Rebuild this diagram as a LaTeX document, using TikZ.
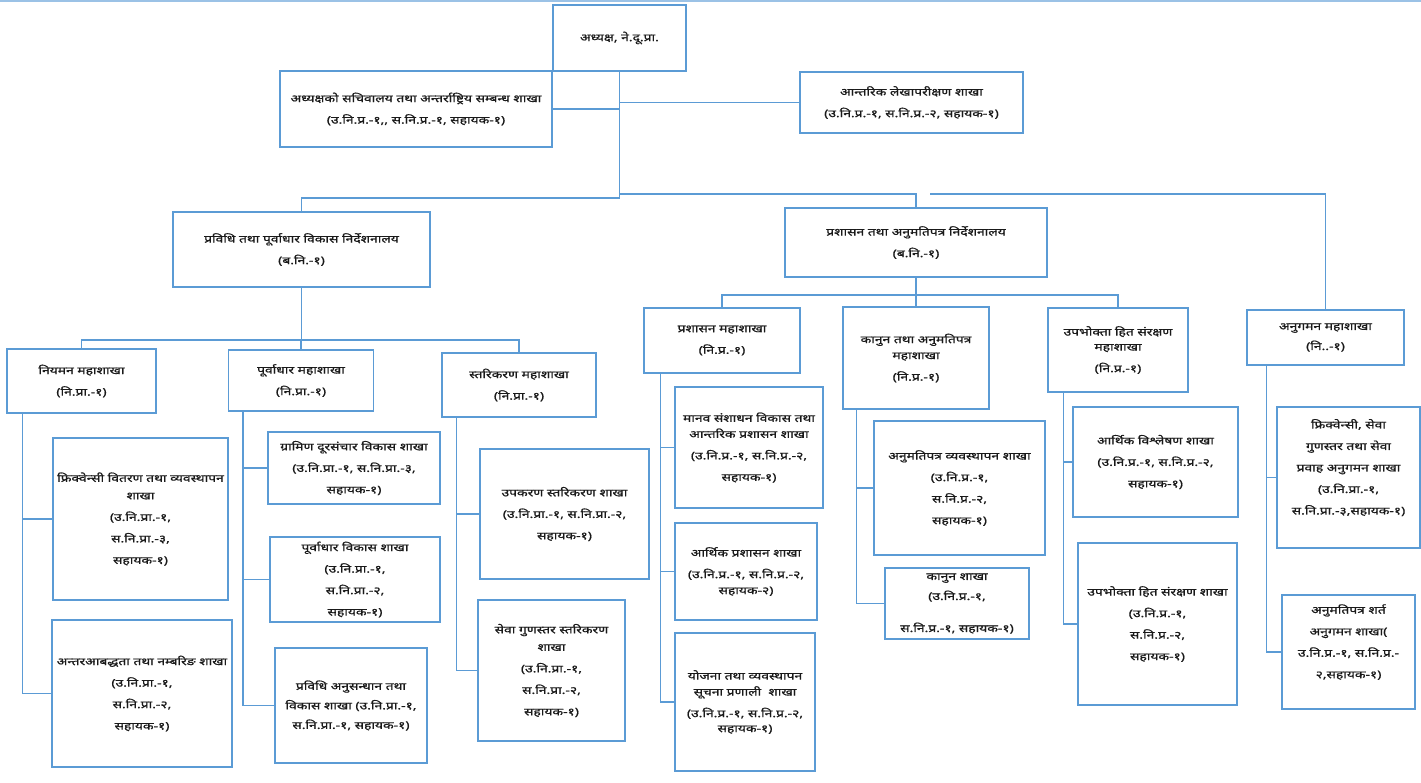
\documentclass[tikz,border=0pt]{standalone}
\usepackage{fontspec}
\newfontfamily\dev[Script=Devanagari, FakeStretch=1.32, FakeBold=0.9]{Noto Sans}
\definecolor{boxblue}{RGB}{91,155,213}
\definecolor{topblue}{RGB}{155,194,230}
\tikzset{
  box/.style={draw=boxblue, line width=1.2pt, fill=white, align=center, inner sep=1pt,
    font=\dev\fontsize{10.5}{21.5}\selectfont, text=black!90},
  conn/.style={draw=boxblue, line width=1.2pt},
  topline/.style={draw=topblue, line width=1.2pt},
}
\begin{document}
\begin{tikzpicture}[x=1pt,y=-1pt]
\useasboundingbox (0,0) rectangle (1421,783);
\coordinate (lt) at (0,1);
\coordinate (rt) at (1421,1);
\draw[topline] (lt) -- (rt);

% top level
\node[box, minimum width=133pt, minimum height=66pt] (chair) at (619.5,38) {अध्यक्ष, ने.दू.प्रा.};
\node[box, minimum width=272pt, minimum height=76pt] (sec) at (416,109) {अध्यक्षको सचिवालय तथा अन्तर्राष्ट्रिय सम्बन्ध शाखा\\(उ.नि.प्र.-१,, स.नि.प्र.-१, सहायक-१)};
\node[box, minimum width=223pt, minimum height=61pt] (audit) at (911.5,102.5) {आन्तरिक लेखापरीक्षण शाखा\\(उ.नि.प्र.-१, स.नि.प्र.-२, सहायक-१)};

% directorates
\node[box, minimum width=257pt, minimum height=75pt] (dirL) at (301.5,249.5) {प्रविधि तथा पूर्वाधार विकास निर्देशनालय\\(ब.नि.-१)};
\node[box, minimum width=262pt, minimum height=69pt] (dirR) at (916,242.5) {प्रशासन तथा अनुमतिपत्र निर्देशनालय\\(ब.नि.-१)};

% left divisions
\node[box, minimum width=149pt, minimum height=64pt] (niy) at (81.5,381) {नियमन महाशाखा\\(नि.प्रा.-१)};
\node[box, minimum width=175pt, minimum height=162pt] (niy1) at (140.5,519) {फ्रिक्वेन्सी वितरण तथा व्यवस्थापन\\[-4pt]शाखा\\(उ.नि.प्रा.-१,\\स.नि.प्रा.-३,\\सहायक-१)};
\node[box, minimum width=180pt, minimum height=147pt] (niy2) at (142,693.5) {अन्तरआबद्धता तथा नम्बरिङ शाखा\\(उ.नि.प्रा.-१,\\स.नि.प्रा.-२,\\सहायक-१)};

\node[box, minimum width=145pt, minimum height=61pt] (inf) at (301,380.5) {पूर्वाधार महाशाखा\\(नि.प्रा.-१)};
\node[box, minimum width=172pt, minimum height=72pt] (inf1) at (354,468) {ग्रामिण दूरसंचार विकास शाखा\\(उ.नि.प्रा.-१, स.नि.प्रा.-३,\\सहायक-१)};
\node[box, minimum width=170pt, minimum height=85pt] (inf2) at (355,579.5) {पूर्वाधार विकास शाखा\\(उ.नि.प्रा.-१,\\स.नि.प्रा.-२,\\सहायक-१)};
\node[box, minimum width=152pt, minimum height=115pt] (inf3) at (351,705.5) {प्रविधि अनुसन्धान तथा\\[-2pt]विकास शाखा (उ.नि.प्रा.-१,\\[-2pt]स.नि.प्रा.-१, सहायक-१)};

\node[box, minimum width=154pt, minimum height=64pt] (std) at (519,385) {स्तरिकरण महाशाखा\\(नि.प्रा.-१)};
\node[box, minimum width=169pt, minimum height=130pt] (std1) at (564.5,514) {उपकरण स्तरिकरण शाखा\\(उ.नि.प्रा.-१, स.नि.प्रा.-२,\\सहायक-१)};
\node[box, minimum width=147pt, minimum height=141pt] (std2) at (551.5,670.5) {सेवा गुणस्तर स्तरिकरण\\[-4pt]शाखा\\(उ.नि.प्रा.-१,\\स.नि.प्रा.-२,\\सहायक-१)};

% right divisions
\node[box, minimum width=156pt, minimum height=65pt] (adm) at (722,340.5) {प्रशासन महाशाखा\\(नि.प्र.-१)};
\node[box, minimum width=148pt, minimum height=121pt] (adm1) at (749,447.5) {मानव संशाधन विकास तथा\\[-5.5pt]आन्तरिक प्रशासन शाखा\\(उ.नि.प्र.-१, स.नि.प्र.-२,\\सहायक-१)};
\node[box, minimum width=142pt, minimum height=97pt] (adm2) at (746,571.5) {आर्थिक प्रशासन शाखा\\(उ.नि.प्र.-१, स.नि.प्र.-२,\\[-5.5pt]सहायक-२)};
\node[box, minimum width=140pt, minimum height=138pt] (adm3) at (745,702) {योजना तथा व्यवस्थापन\\[-5.5pt]सूचना प्रणाली\ \ शाखा\\(उ.नि.प्र.-१, स.नि.प्र.-२,\\[-6.5pt]सहायक-१)};

\node[box, minimum width=146pt, minimum height=102pt] (law) at (916,358) {कानुन तथा अनुमतिपत्र\\[-5.5pt]महाशाखा\\(नि.प्र.-१)};
\node[box, minimum width=171pt, minimum height=134pt] (law1) at (959.5,488) {अनुमतिपत्र व्यवस्थापन शाखा\\(उ.नि.प्र.-१,\\स.नि.प्र.-२,\\सहायक-१)};
\node[box, minimum width=144pt, minimum height=71pt] (law2) at (957,603.5) {कानुन शाखा\\[-1.5pt](उ.नि.प्र.-१,\\[10.5pt]स.नि.प्र.-१, सहायक-१)};

\node[box, minimum width=140pt, minimum height=84pt] (con) at (1118,350) {उपभोक्ता हित संरक्षण\\[-6.5pt]महाशाखा\\(नि.प्र.-१)};
\node[box, minimum width=165pt, minimum height=110pt] (con1) at (1155.5,462) {आर्थिक विश्लेषण शाखा\\(उ.नि.प्र.-१, स.नि.प्र.-२,\\सहायक-१)};
\node[box, minimum width=159pt, minimum height=162pt] (con2) at (1157.5,624) {उपभोक्ता हित संरक्षण शाखा\\(उ.नि.प्र.-१,\\स.नि.प्र.-२,\\सहायक-१)};

\node[box, minimum width=157pt, minimum height=55pt] (mon) at (1325.5,337.5) {अनुगमन महाशाखा\\[-1.5pt](नि..-१)};
\node[box, minimum width=143pt, minimum height=141pt] (mon1) at (1348.5,477.5) {फ्रिक्वेन्सी, सेवा\\गुणस्तर तथा सेवा\\प्रवाह अनुगमन शाखा\\(उ.नि.प्रा.-१,\\स.नि.प्रा.-३,सहायक-१)\\\mbox{}};
\node[box, minimum width=133pt, minimum height=114pt] (mon2) at (1348.5,652) {अनुमतिपत्र शर्त\\अनुगमन शाखा(\\उ.नि.प्र.-१, स.नि.प्र.-\\२,सहायक-१)\\\mbox{}};

% junctions
\coordinate (jL) at (619.5,198);
\coordinate (jR) at (619.5,194);
\coordinate (mstart) at (930,194);
\coordinate (busL) at (301.5,340);
\coordinate (busR) at (916,295);

% connectors top
\draw[conn] (chair.south) -- (jL) -| (dirL.north);
\draw[conn] (jR) -| (dirR.north);
\draw[conn] (sec.east) -- (sec.east -| chair.south);
\draw[conn] (chair.south |- audit.west) -- (audit.west);
\draw[conn] (mstart) -| (mon.north);

% left directorate
\draw[conn] (dirL.south) -- (busL);
\draw[conn] (niy.north) |- (busL);
\draw[conn] (busL) -| (std.north);
\draw[conn] (inf.north) -- (inf.north |- busL);

% right directorate
\draw[conn] (dirR.south) -- (busR);
\draw[conn] (adm.north) |- (busR);
\draw[conn] (busR) -| (con.north);
\draw[conn] (law.north) -- (law.north |- busR);

% branch buses
\draw[conn] ([xshift=16pt]niy.south west) |- (niy1.west);
\draw[conn] ([xshift=16pt]niy.south west) |- (niy2.west);
\draw[conn] ([xshift=15pt]inf.south west) |- (inf1.west);
\draw[conn] ([xshift=15pt]inf.south west) |- (inf2.west);
\draw[conn] ([xshift=15pt]inf.south west) |- (inf3.west);
\draw[conn] ([xshift=15pt]std.south west) |- (std1.west);
\draw[conn] ([xshift=15pt]std.south west) |- (std2.west);
\draw[conn] ([xshift=17pt]adm.south west) |- (adm1.west);
\draw[conn] ([xshift=17pt]adm.south west) |- (adm2.west);
\draw[conn] ([xshift=17pt]adm.south west) |- (adm3.west);
\draw[conn] ([xshift=14pt]law.south west) |- (law1.west);
\draw[conn] ([xshift=14pt]law.south west) |- (law2.west);
\draw[conn] ([xshift=16pt]con.south west) |- (con1.west);
\draw[conn] ([xshift=16pt]con.south west) |- (con2.west);
\draw[conn] ([xshift=20pt]mon.south west) |- (mon1.west);
\draw[conn] ([xshift=20pt]mon.south west) |- (mon2.west);
\end{tikzpicture}
\end{document}
